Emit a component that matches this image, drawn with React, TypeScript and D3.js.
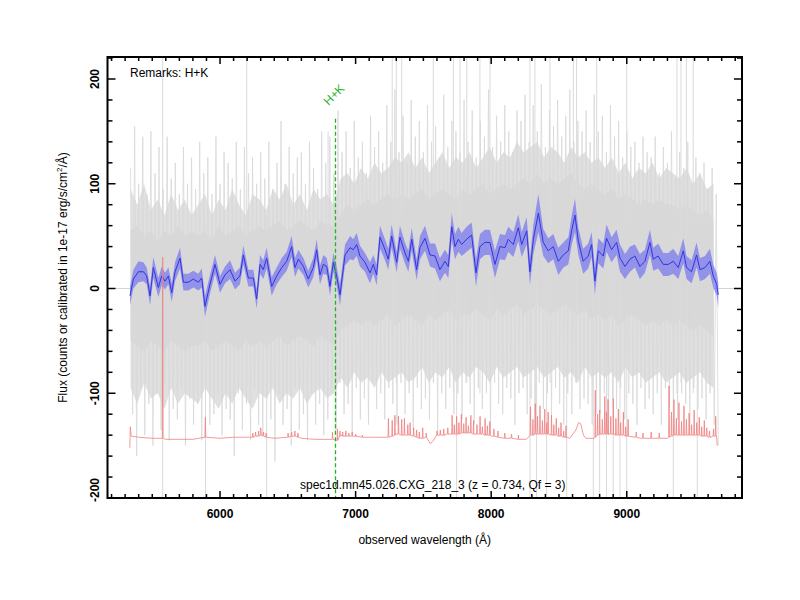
import React from "react";
import * as d3 from "d3";

// ---------- axes ----------
const X_DOMAIN: [number, number] = [5170, 9850];
const Y_DOMAIN: [number, number] = [-200, 221];
const xMajorTicks = [6000, 7000, 8000, 9000];
const yMajorTicks = [-200, -100, 0, 100, 200];

// ---------- smoothed spectrum (blue) ----------
const blueWave = [
  5336, 5361, 5398, 5435, 5459, 5484, 5508, 5545, 5570, 5594,
  5619, 5644, 5668, 5705, 5730, 5766, 5803, 5840, 5865, 5889,
  5926, 5963, 6000, 6037, 6074, 6111, 6147, 6172, 6209, 6246,
  6270, 6295, 6319, 6344, 6381, 6418, 6455, 6492, 6528, 6553,
  6578, 6615, 6651, 6688, 6713, 6737, 6762, 6787, 6811, 6836,
  6860, 6885, 6922, 6959, 6983, 7008, 7032, 7069, 7106, 7131,
  7155, 7180, 7217, 7241, 7266, 7303, 7327, 7364, 7389, 7414,
  7450, 7475, 7512, 7549, 7586, 7622, 7659, 7684, 7709, 7733,
  7758, 7782, 7819, 7856, 7888, 7917, 7954, 7991, 8028, 8065,
  8102, 8126, 8163, 8200, 8225, 8262, 8286, 8311, 8348, 8384,
  8421, 8458, 8495, 8532, 8569, 8593, 8618, 8643, 8679, 8716,
  8741, 8765, 8790, 8827, 8851, 8888, 8925, 8950, 8987, 9024,
  9060, 9097, 9134, 9171, 9196, 9232, 9269, 9306, 9343, 9380,
  9417, 9441, 9478, 9515, 9540, 9577, 9613, 9638, 9663, 9675,
];
const blueFlux = [
  -7, 9, 16, 16, 12, -7, 20, 1, 12, 7,
  12, -4, 16, 29, 6, 6, 9, 6, 10, -17,
  4, 23, 4, 13, 18, 7, 12, 32, 10, 10,
  -10, 23, 18, 29, 2, 12, 20, 26, 40, 20,
  28, 21, 9, 20, 37, 13, 23, 21, 2, 25,
  12, -6, 32, 39, 37, 42, 31, 25, 15, 23,
  13, 49, 37, 28, 50, 25, 49, 34, 26, 47,
  18, 39, 48, 32, 31, 18, 26, 21, 59, 40,
  47, 42, 47, 51, 15, 40, 44, 44, 23, 40,
  39, 47, 42, 58, 42, 55, 16, 47, 72, 44,
  36, 40, 26, 32, 36, 55, 70, 45, 26, 31,
  42, 7, 36, 31, 48, 37, 44, 29, 21, 28,
  31, 21, 26, 44, 28, 31, 23, 23, 26, 20,
  36, 20, 16, 32, 18, 20, 26, 12, 4, -6,
];
const blueErr = [
  9, 9, 10, 9, 8, 9, 10, 9, 9, 8,
  8, 9, 9, 10, 8, 8, 8, 8, 9, 10,
  9, 9, 8, 8, 9, 8, 8, 9, 8, 8,
  9, 9, 9, 10, 9, 8, 9, 9, 10, 9,
  9, 8, 8, 9, 10, 9, 9, 8, 9, 9,
  9, 10, 10, 11, 10, 11, 10, 9, 10, 9,
  10, 11, 10, 10, 11, 10, 11, 10, 10, 11,
  10, 11, 12, 11, 12, 11, 11, 11, 13, 12,
  12, 11, 12, 12, 13, 12, 12, 12, 13, 12,
  12, 12, 12, 13, 12, 13, 13, 14, 18, 13,
  12, 12, 13, 12, 13, 14, 16, 13, 12, 12,
  12, 13, 12, 12, 13, 12, 12, 13, 12, 12,
  11, 12, 11, 12, 11, 12, 11, 11, 12, 11,
  12, 11, 11, 12, 11, 11, 12, 11, 11, 12,
];

// ---------- raw spectrum (gray): spikes every 30 Å ----------
const GRAY_START = 5340;
const GRAY_STEP = 30;
const grayHi = [
  115, 155, 100, 145, 90, 150, 110, 135, 95, 145, 105, 120, 90, 135, 100, 125,
  95, 140, 110, 125, 90, 145, 100, 130, 120, 105, 140, 95, 135, 110, 125, 100,
  130, 105, 140, 95, 120, 160, 100, 135, 110, 125, 130, 100, 140, 115, 95, 150,
  120, 145, 110, 170, 130, 150, 115, 160, 125, 140, 110, 165, 135, 150, 120, 175,
  140, 190, 130, 165, 120, 180, 145, 160, 130, 175, 140, 155, 125, 185, 135, 160,
  150, 130, 180, 140, 170, 125, 160, 145, 190, 135, 165, 140, 175, 150, 130, 170,
  160, 185, 140, 175, 150, 195, 135, 170, 155, 180, 145, 165, 190, 140, 160, 150,
  170, 140, 185, 150, 165, 130, 175, 145, 160, 125, 150, 135, 140, 120, 145, 130,
  125, 145, 110, 135, 120, 150, 105, 130, 115, 140, 100, 125, 110, 120, 95, 115,
  90,
];
const grayLo = [
  -120, -160, -95, -140, -110, -150, -100, -135, -90, -145, -115, -125, -95, -150, -105, -130,
  -110, -145, -95, -130, -120, -100, -140, -115, -125, -160, -100, -135, -110, -145, -95, -130,
  -140, -105, -125, -165, -100, -130, -115, -150, -95, -135, -120, -145, -100, -130, -110, -140,
  -125, -100, -135, -90, -120, -110, -140, -95, -125, -105, -130, -90, -115, -100, -125, -95,
  -110, -130, -90, -120, -100, -135, -95, -115, -105, -125, -90, -140, -100, -115, -95, -120,
  -100, -125, -90, -110, -130, -95, -115, -100, -140, -90, -110, -120, -95, -105, -130, -100,
  -95, -120, -105, -135, -90, -115, -100, -125, -95, -110, -130, -100, -120, -90, -115, -105,
  -110, -130, -95, -120, -100, -140, -105, -115, -95, -125, -100, -110, -130, -95, -115, -105,
  -120, -100, -130, -95, -115, -105, -125, -100, -110, -135, -95, -115, -105, -125, -100, -130,
  -150,
];
// dense body of the raw spectrum, every 50 Å
const CORE_START = 5340;
const CORE_STEP = 50;
const outerHi = [
  95, 80, 100, 75, 85, 70, 90, 75, 85, 70,
  80, 90, 70, 85, 75, 95, 80, 70, 90, 85,
  75, 95, 85, 100, 80, 90, 75, 95, 85, 90,
  80, 105, 110, 100, 115, 105, 120, 110, 115, 125,
  120, 130, 115, 125, 110, 120, 130, 115, 125, 120,
  130, 115, 125, 135, 120, 130, 125, 140, 130, 135,
  140, 125, 135, 130, 120, 135, 125, 130, 120, 125,
  115, 125, 110, 120, 105, 115, 110, 120, 105, 115,
  110, 105, 115, 100, 110, 95, 100,
];
const outerLo = [
  -95, -110, -90, -105, -100, -115, -95, -110, -100, -105,
  -110, -95, -105, -115, -100, -110, -95, -105, -115, -100,
  -105, -95, -110, -100, -105, -95, -110, -100, -95, -105,
  -100, -85, -95, -80, -90, -85, -95, -80, -90, -85,
  -80, -90, -85, -75, -90, -80, -85, -75, -90, -80,
  -85, -75, -80, -90, -75, -85, -80, -75, -85, -80,
  -75, -85, -80, -75, -85, -80, -90, -75, -85, -80,
  -85, -80, -90, -75, -85, -80, -90, -85, -80, -90,
  -85, -80, -90, -85, -80, -90, -95,
];
const innerHi = [
  55, 60, 50, 55, 45, 55, 50, 60, 50, 55,
  50, 55, 45, 60, 50, 55, 60, 50, 55, 60,
  55, 60, 65, 55, 60, 65, 60, 55, 65, 60,
  60, 70, 80, 75, 80, 85, 80, 85, 90, 85,
  90, 85, 90, 95, 85, 90, 95, 90, 85, 95,
  90, 95, 100, 90, 95, 100, 95, 100, 105, 100,
  110, 100, 105, 100, 105, 110, 100, 95, 100, 95,
  90, 95, 85, 90, 85, 80, 85, 80, 85, 80,
  80, 75, 80, 75, 70, 75, 65,
];
const innerLo = [
  -50, -55, -60, -50, -55, -60, -50, -55, -60, -55,
  -55, -50, -60, -55, -50, -55, -60, -50, -55, -50,
  -55, -50, -45, -55, -50, -45, -50, -55, -45, -50,
  -55, -40, -35, -30, -35, -30, -35, -30, -25, -35,
  -30, -25, -30, -35, -25, -30, -25, -20, -30, -25,
  -25, -20, -25, -30, -20, -25, -20, -15, -25, -20,
  -15, -20, -25, -20, -15, -20, -25, -20, -30, -25,
  -30, -25, -35, -30, -25, -30, -35, -30, -35, -30,
  -35, -30, -35, -40, -35, -40, -45,
];
// sky-line residuals: [wavelength, top, bottom]
const skyResiduals: [number, number, number][] = [
  [5577, 230, -210], [5893, 60, -210], [6197, 230, -90], [6344, 70, -200],
  [6797, 150, -100], [7270, 230, -80], [7300, 230, -90], [7340, 230, -70],
  [7573, 230, -90], [7721, 230, -100], [7745, 60, -205], [7770, 230, -80],
  [7820, 230, -90], [7917, 230, -100], [7991, 230, -90], [8286, 230, -210],
  [8323, 230, -120], [8335, 60, -210], [8409, 60, -210], [8434, 230, -90],
  [8557, 60, -200], [8606, 230, -80], [8630, 230, -90], [8753, 60, -210],
  [8778, 230, -120], [8800, 60, -210], [8851, 60, -210], [8900, 60, -210],
  [8950, 50, -210], [9000, 230, -210], [9343, 60, -210], [9370, 230, -100],
  [9400, 230, -90], [9440, 230, -90], [9490, 230, -100], [9520, 50, -210],
];

// ---------- sky spectrum (red, offset) ----------
const skyBase: [number, number][] = [
  [5335, -152], [5338, -132], [5345, -141], [5400, -142], [5500, -143], [5600, -144],
  [5700, -144], [5800, -144], [5900, -142], [6000, -143], [6100, -142], [6200, -142],
  [6300, -140], [6400, -143], [6500, -141], [6600, -143], [6700, -144], [6820, -144],
  [6860, -145], [6900, -140], [7000, -141], [7100, -142], [7230, -142], [7300, -139],
  [7400, -140], [7480, -143], [7520, -142], [7550, -148], [7570, -146], [7600, -140],
  [7700, -139], [7800, -138], [7900, -139], [8000, -141], [8100, -143], [8200, -144],
  [8260, -144], [8300, -140], [8400, -139], [8500, -141], [8580, -143], [8625, -135],
  [8645, -128], [8660, -129], [8680, -140], [8700, -143], [8760, -143], [8800, -139],
  [8900, -139], [9000, -141], [9100, -143], [9200, -143], [9300, -143], [9400, -140],
  [9500, -140], [9600, -142], [9662, -141], [9668, -150],
];
// emission-line spikes: [wavelength, base, peak]
const skySpikes: [number, number, number][] = [
  [5577, -143, 30], [5892, -142, -123], [6242, -142, -138], [6262, -141, -137],
  [6285, -141, -136], [6300, -140, -133], [6320, -141, -137], [6340, -142, -138],
  [6502, -142, -138], [6528, -141, -137], [6552, -141, -136], [6575, -142, -138],
  [6830, -144, -137], [6866, -145, -134], [6885, -141, -136], [6905, -141, -137],
  [6928, -141, -136], [6950, -141, -138], [6975, -141, -137], [7000, -141, -139],
  [7050, -142, -140], [7242, -142, -124], [7270, -141, -126], [7290, -140, -121],
  [7316, -139, -122], [7340, -140, -125], [7360, -140, -124], [7385, -140, -130],
  [7402, -140, -128], [7428, -141, -133], [7450, -142, -135], [7470, -143, -137],
  [7495, -143, -133], [7520, -142, -138], [7600, -140, -136], [7625, -140, -135],
  [7650, -140, -134], [7680, -139, -133], [7712, -139, -121], [7728, -139, -130],
  [7745, -139, -122], [7762, -139, -128], [7780, -138, -120], [7798, -138, -129],
  [7815, -138, -123], [7832, -138, -131], [7850, -138, -121], [7870, -139, -126],
  [7895, -139, -130], [7918, -139, -122], [7935, -139, -132], [7955, -140, -124],
  [7972, -140, -131], [7990, -140, -127], [8020, -141, -134], [8050, -142, -136],
  [8100, -143, -138], [8150, -143, -139], [8200, -144, -140], [8290, -140, -113],
  [8308, -140, -125], [8325, -139, -110], [8342, -139, -122], [8360, -139, -112],
  [8378, -139, -126], [8395, -139, -115], [8410, -139, -128], [8420, -139, -118],
  [8445, -140, -121], [8462, -140, -130], [8480, -140, -124], [8498, -141, -133],
  [8515, -141, -128], [8535, -142, -136], [8552, -142, -131], [8768, -142, -97],
  [8785, -140, -120], [8800, -139, -116], [8820, -139, -125], [8838, -139, -103],
  [8850, -139, -118], [8862, -139, -106], [8882, -139, -122], [8900, -139, -105],
  [8920, -140, -124], [8938, -140, -115], [8955, -140, -128], [8975, -140, -118],
  [8992, -141, -132], [9010, -141, -125], [9070, -142, -137], [9120, -143, -138],
  [9180, -143, -137], [9240, -143, -138], [9312, -142, -93], [9330, -141, -118],
  [9348, -140, -106], [9366, -140, -124], [9385, -140, -109], [9404, -140, -127],
  [9422, -140, -112], [9440, -140, -125], [9460, -140, -119], [9478, -140, -130],
  [9497, -140, -116], [9516, -140, -128], [9535, -140, -123], [9553, -141, -132],
  [9572, -141, -126], [9590, -141, -133], [9610, -142, -136], [9640, -141, -134],
  [9656, -141, -122],
];

// ---------- annotations ----------
const lineMarkWave = 6851;
const lineMarkTop = 162;
const lineMarkLabel = "H+K";
const remarks = "Remarks: H+K";
const titleText = "spec1d.mn45.026.CXG_218_3 (z = 0.734, Qf = 3)";
const xLabel = "observed wavelength (Å)";

const FONT = "'Liberation Sans', Arial, Helvetica, sans-serif";
const GREEN = "#1fb51f";

type Band = { w: number; hi: number; lo: number };

export default function App() {
  const left = 107.5, right = 742, top = 57, bottom = 498;
  const x = d3.scaleLinear().domain(X_DOMAIN).range([left, right]);
  const y = d3.scaleLinear().domain(Y_DOMAIN).range([bottom, top]);

  const xMinor = d3.range(5200, 9850, 100);
  const yMinor = d3.range(-200, 221, 20);

  // blue
  const n = Math.min(blueWave.length, blueFlux.length, blueErr.length);
  const blue = d3.range(n).map((i) => ({ w: blueWave[i], f: blueFlux[i], e: blueErr[i] }));
  const band = d3
    .area<{ w: number; f: number; e: number }>()
    .x((d) => x(d.w))
    .y0((d) => y(d.f - d.e))
    .y1((d) => y(d.f + d.e))(blue) as string;
  const blueLine = d3
    .line<{ w: number; f: number; e: number }>()
    .x((d) => x(d.w))
    .y((d) => y(d.f))(blue) as string;

  // gray zig-zag spikes
  const gn = Math.min(grayHi.length, grayLo.length);
  const zig: [number, number][] = [];
  for (let i = 0; i < gn; i++) {
    const w = GRAY_START + i * GRAY_STEP;
    zig.push([x(w), y(grayHi[i])]);
    zig.push([x(w + GRAY_STEP / 2), y(grayLo[i])]);
  }
  const zigPath = d3.line()(zig) as string;

  const bandArea = d3
    .area<Band>()
    .x((d) => x(d.w))
    .y0((d) => y(d.lo))
    .y1((d) => y(d.hi));
  const mk = (hi: number[], lo: number[]): Band[] =>
    d3.range(Math.min(hi.length, lo.length)).map((i) => ({
      w: CORE_START + i * CORE_STEP,
      hi: hi[i],
      lo: lo[i],
    }));
  const outerPath = bandArea(mk(outerHi, outerLo)) as string;
  const innerPath = bandArea(mk(innerHi, innerLo)) as string;

  // red: baseline + thin spikes
  const redPts: [number, number][] = [...skyBase];
  skySpikes.forEach(([w, b, p]) => {
    redPts.push([w - 3, b], [w, p], [w + 3, b]);
  });
  redPts.sort((a, b) => a[0] - b[0]);
  const redPath = d3
    .line<[number, number]>()
    .x((d) => x(d[0]))
    .y((d) => y(d[1]))(redPts) as string;

  const hkX = Math.floor(x(lineMarkWave)) + 0.5;

  return (
    <svg
      width={800}
      height={600}
      style={{ position: "absolute", left: 0, top: 0, background: "#fff" }}
      fontFamily={FONT}
    >
      <defs>
        <clipPath id="plot">
          <rect x={left} y={top} width={right - left} height={bottom - top} />
        </clipPath>
      </defs>
      <rect x={0} y={0} width={800} height={600} fill="#fff" />
      <g clipPath="url(#plot)">
        <line x1={left} x2={right} y1={y(0)} y2={y(0)} stroke="#d4d4d4" strokeWidth={1} />
        <path d={outerPath} fill="#e0e0e0" />
        <path d={zigPath} fill="none" stroke="#d8d8d8" strokeWidth={0.8} />
        <path d={innerPath} fill="#d7d7d7" fillOpacity={0.85} />
        {skyResiduals.map(([w, hi, lo], i) => (
          <line key={i} x1={x(w)} x2={x(w)} y1={y(hi)} y2={y(lo)} stroke="#dadada" strokeWidth={1} />
        ))}
        <path d={band} fill="#7777ee" fillOpacity={0.72} />
        <path d={blueLine} fill="none" stroke="#3434e0" strokeWidth={1} />
        <path d={redPath} fill="none" stroke="#f08080" strokeWidth={0.8} />
      </g>
      <line
        x1={hkX}
        x2={hkX}
        y1={y(lineMarkTop)}
        y2={bottom - 1}
        stroke={GREEN}
        strokeWidth={1.3}
        strokeDasharray="4,2.5"
      />
      <text
        x={hkX - 7}
        y={106}
        transform={`rotate(-45, ${hkX - 7}, 106)`}
        fontSize={12}
        fill={GREEN}
      >
        {lineMarkLabel}
      </text>
      <text x={130} y={77} fontSize={12} fill="#000">
        {remarks}
      </text>
      <text x={(left + right) / 2 + 8} y={489} fontSize={12} textAnchor="middle" fill="#000">
        {titleText}
      </text>

      {/* frame */}
      <rect x={left} y={top} width={right - left} height={bottom - top} fill="none" stroke="#000" strokeWidth={2} />
      {xMinor.map((t) => {
        const major = xMajorTicks.includes(t);
        const len = major ? 7 : 4;
        return (
          <g key={"x" + t}>
            <line x1={x(t)} x2={x(t)} y1={bottom} y2={bottom - len} stroke="#000" strokeWidth={1.5} />
            <line x1={x(t)} x2={x(t)} y1={top} y2={top + len} stroke="#000" strokeWidth={1.5} />
          </g>
        );
      })}
      {yMinor.map((t) => {
        const major = yMajorTicks.includes(t);
        const len = major ? 8 : 5;
        return (
          <g key={"y" + t}>
            <line x1={left} x2={left + len} y1={y(t)} y2={y(t)} stroke="#000" strokeWidth={1.5} />
            <line x1={right} x2={right - len} y1={y(t)} y2={y(t)} stroke="#000" strokeWidth={1.5} />
          </g>
        );
      })}
      {xMajorTicks.map((t) => (
        <text key={"xl" + t} x={x(t)} y={518} fontSize={12} fontWeight="bold" textAnchor="middle">
          {t}
        </text>
      ))}
      {yMajorTicks.map((t) => {
        const cy = Math.min(y(t), 490);
        return (
          <text
            key={"yl" + t}
            x={99}
            y={cy}
            transform={`rotate(-90, 99, ${cy})`}
            fontSize={12}
            fontWeight="bold"
            textAnchor="middle"
          >
            {t}
          </text>
        );
      })}
      <text x={(left + right) / 2} y={544} fontSize={12} textAnchor="middle">
        {xLabel}
      </text>
      <text
        x={67}
        y={(top + bottom) / 2}
        transform={`rotate(-90, 67, ${(top + bottom) / 2})`}
        fontSize={12}
        textAnchor="middle"
      >
        Flux (counts or calibrated in 1e-17 erg/s/cm
        <tspan dy={-5} fontSize={8}>2</tspan>
        <tspan dy={5}>/Å)</tspan>
      </text>
    </svg>
  );
}
